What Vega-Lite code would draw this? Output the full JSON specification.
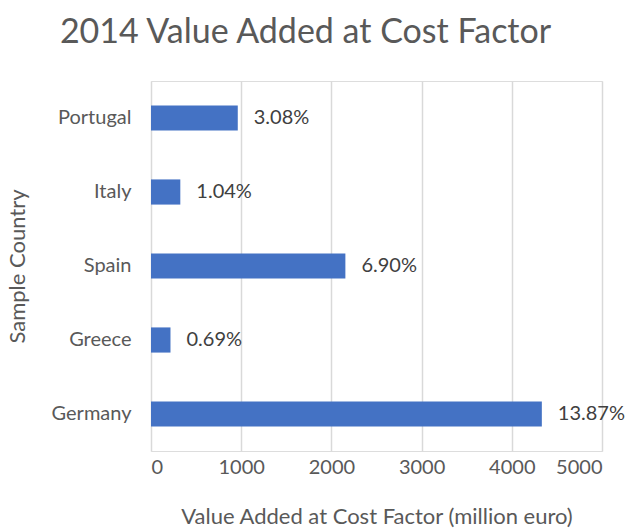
{
  "$schema": "https://vega.github.io/schema/vega-lite/v6.json",
  "autosize": "none",
  "padding": {"left": 151, "top": 81, "right": 27, "bottom": 80},
  "width": 451,
  "height": 370,
  "background": "white",
  "title": {
    "text": "2014 Value Added at Cost Factor",
    "font": "Lato",
    "fontSize": 34,
    "fontWeight": "normal",
    "color": "#595959",
    "anchor": "middle",
    "dx": -71,
    "offset": 31
  },
  "data": {
    "values": [
      {"country": "Portugal", "value": 962, "label": "3.08%"},
      {"country": "Italy", "value": 325, "label": "1.04%"},
      {"country": "Spain", "value": 2155, "label": "6.90%"},
      {"country": "Greece", "value": 216, "label": "0.69%"},
      {"country": "Germany", "value": 4333, "label": "13.87%"}
    ]
  },
  "encoding": {
    "y": {
      "field": "country",
      "type": "nominal",
      "sort": null,
      "scale": {"paddingInner": 0.66, "paddingOuter": 0.33},
      "axis": {
        "title": "Sample Country",
        "titleFont": "Lato",
        "titleFontSize": 22,
        "titleFontWeight": "normal",
        "titleColor": "#595959",
        "titlePadding": 22,
        "labelFont": "Lato",
        "labelFontSize": 20,
        "labelColor": "#595959",
        "labelPadding": 20,
        "ticks": false,
        "domain": false,
        "grid": false
      }
    },
    "x": {
      "field": "value",
      "type": "quantitative",
      "scale": {"domain": [0, 5000], "nice": false},
      "axis": {
        "title": "Value Added at Cost Factor (million euro)",
        "titleFont": "Lato",
        "titleFontSize": 22,
        "titleFontWeight": "normal",
        "titleColor": "#595959",
        "titlePadding": 29,
        "labelFont": "Lato",
        "labelFontSize": 20,
        "labelColor": "#595959",
        "labelPadding": 6,
        "values": [0, 1000, 2000, 3000, 4000, 5000],
        "format": "d",
        "ticks": false,
        "domain": false,
        "grid": true,
        "gridColor": "#d9d9d9",
        "gridWidth": 1.5
      }
    }
  },
  "layer": [
    {"mark": {"type": "bar", "color": "#4472C4"}},
    {
      "mark": {"type": "text", "align": "left", "dx": 16, "font": "Lato", "fontSize": 20, "color": "#404040"},
      "encoding": {"text": {"field": "label"}}
    }
  ]
}
